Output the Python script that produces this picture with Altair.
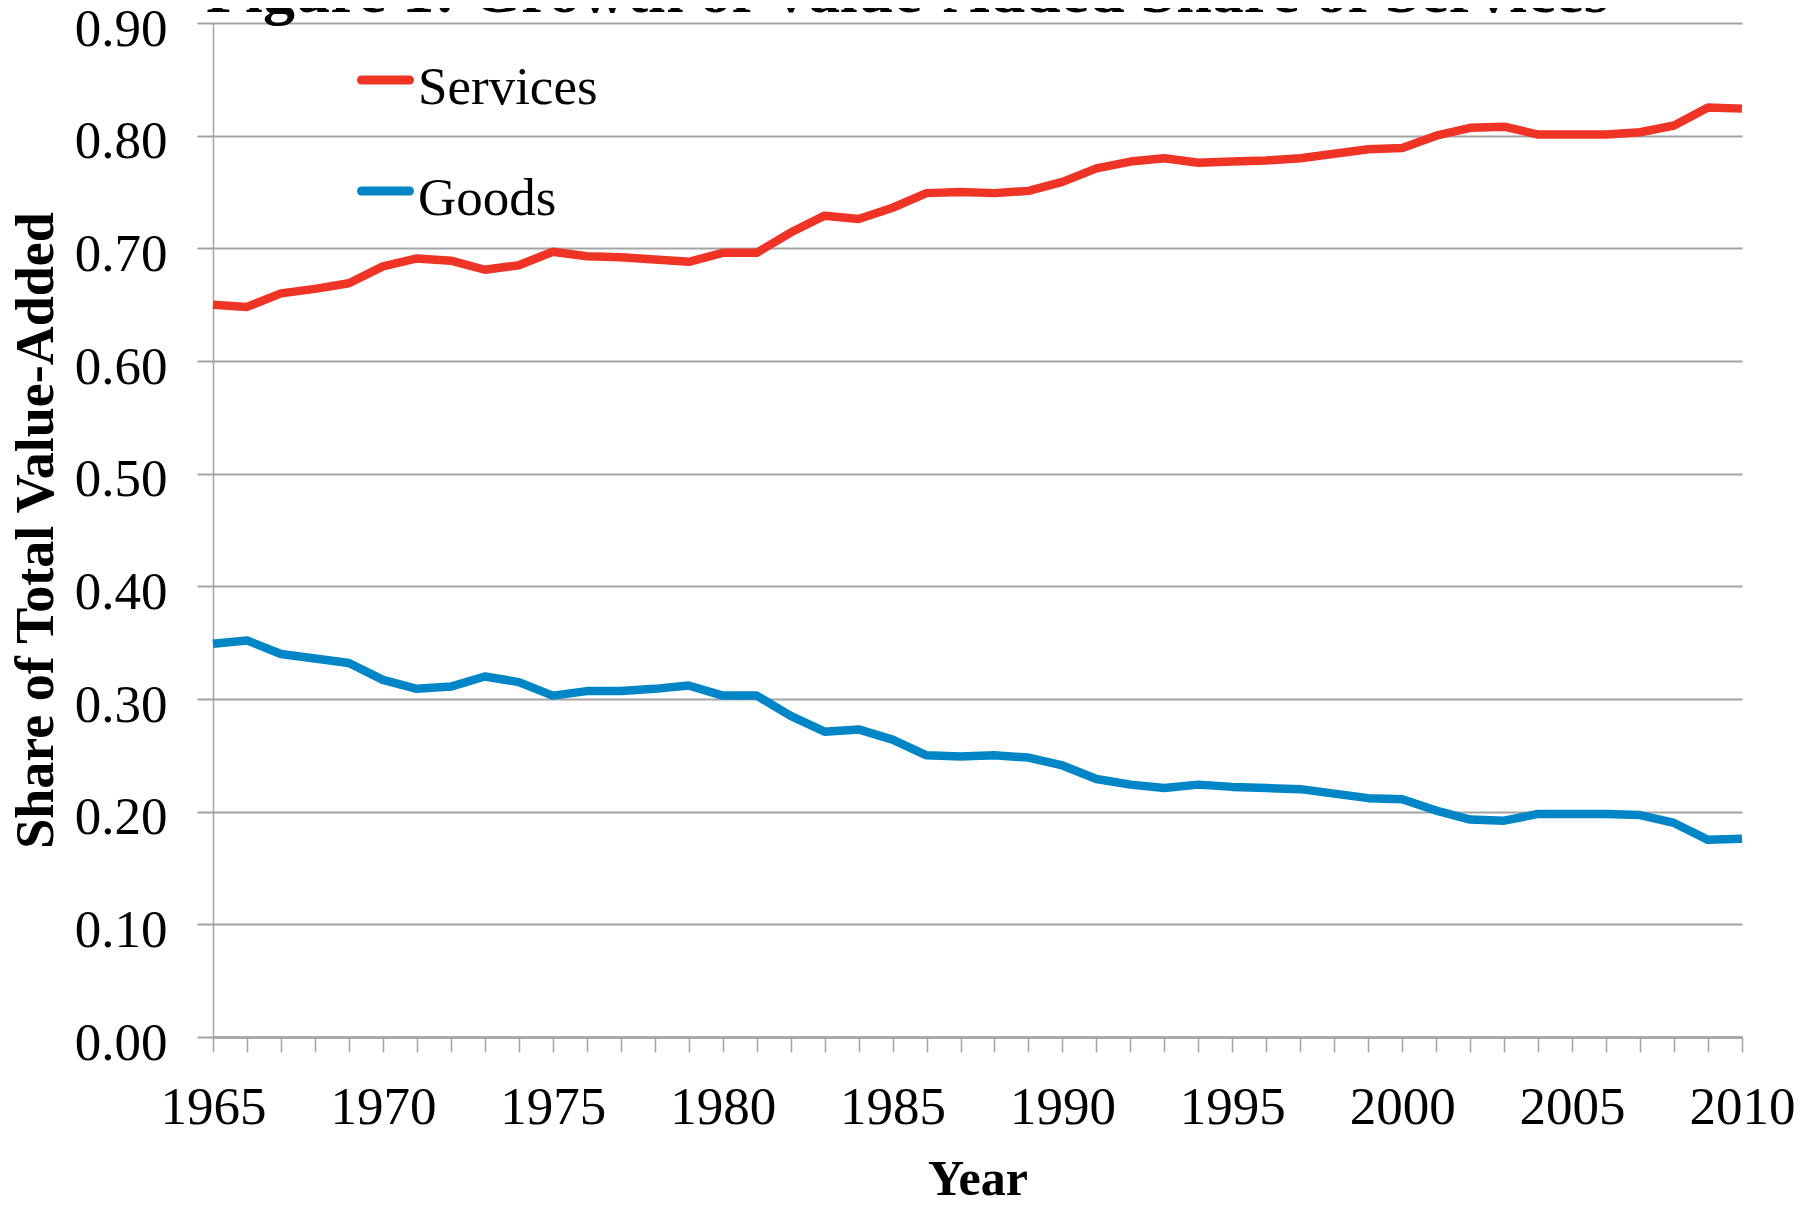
import altair as alt
import pandas as pd

# ---------------- data ----------------
years = list(range(1965, 2011))
services = [0.650, 0.648, 0.660, 0.664, 0.669, 0.684, 0.691, 0.689, 0.681, 0.685,
            0.697, 0.693, 0.692, 0.690, 0.688, 0.696, 0.696, 0.714, 0.729, 0.726,
            0.736, 0.749, 0.750, 0.749, 0.751, 0.759, 0.771, 0.777, 0.780, 0.776,
            0.777, 0.778, 0.780, 0.784, 0.788, 0.789, 0.800, 0.807, 0.808, 0.801,
            0.801, 0.801, 0.803, 0.809, 0.825, 0.824]
goods = [0.349, 0.352, 0.340, 0.336, 0.332, 0.317, 0.309, 0.311, 0.320, 0.315,
         0.303, 0.307, 0.307, 0.309, 0.312, 0.303, 0.303, 0.285, 0.271, 0.273,
         0.264, 0.250, 0.249, 0.250, 0.248, 0.241, 0.229, 0.224, 0.221, 0.224,
         0.222, 0.221, 0.220, 0.216, 0.212, 0.211, 0.201, 0.193, 0.192, 0.198,
         0.198, 0.198, 0.197, 0.190, 0.175, 0.176]
series_names = ["Services", "Goods"]
series_colors = ["#EF3426", "#0086C6"]
y_ticks = [0.0, 0.1, 0.2, 0.3, 0.4, 0.5, 0.6, 0.7, 0.8, 0.9]
title_text = ["Figure 1: Growth of Value-Added Share of Services"]
x_title = "Year"
y_title = "Share of Total Value-Added"

df = pd.DataFrame({
    "Year": years + years,
    "Share": services + goods,
    "Series": [series_names[0]] * len(years) + [series_names[1]] * len(years),
})

FONT = "Liberation Serif"
GRAY = "#A3A3A3"
W, H = 1529, 1014

color_scale = alt.Scale(domain=series_names, range=series_colors)

lines = alt.Chart(df).mark_line(strokeWidth=8.5, strokeJoin="round", strokeCap="butt").encode(
    x=alt.X(
        "Year:Q",
        scale=alt.Scale(domain=[1965, 2010], nice=False, zero=False),
        axis=alt.Axis(
            values=years, format="d",
            labelExpr="datum.value % 5 == 0 ? datum.label : ''",
            title=x_title, grid=False,
            tickSize=15, tickWidth=1.5, tickColor=GRAY,
            domainColor=GRAY, domainWidth=2.5,
            labelFont=FONT, labelFontSize=53, labelColor="black",
            labelPadding=29, labelBaseline="top", labelFlush=False, labelOverlap=False,
            titleFont=FONT, titleFontSize=50, titleFontWeight="bold", titleColor="black",
            titleX=W / 2, titleY=157, titleBaseline="alphabetic", titleAlign="center",
        ),
    ),
    y=alt.Y(
        "Share:Q",
        scale=alt.Scale(domain=[0, 0.9], nice=False, zero=True),
        axis=alt.Axis(
            values=y_ticks, format=".2f",
            title=y_title, grid=True, gridColor=GRAY, gridWidth=2,
            tickSize=16, tickWidth=2, tickColor=GRAY,
            domainColor=GRAY, domainWidth=1.5,
            labelFont=FONT, labelFontSize=53, labelColor="black",
            labelPadding=30, labelBaseline="alphabetic", labelOffset=22,
            labelFlush=False, labelOverlap=False,
            titleFont=FONT, titleFontSize=54, titleFontWeight="bold", titleColor="black",
            titleX=-161, titleY=H / 2, titleAngle=270,
            titleBaseline="alphabetic", titleAlign="center",
        ),
    ),
    color=alt.Color("Series:N", scale=color_scale, legend=None),
)

# ---------------- in-plot legend ----------------
legend_layers = []
for i, name in enumerate(series_names):
    ldf = pd.DataFrame({"Series": [name]})
    y_line = 57 + i * 111
    swatch = alt.Chart(ldf).mark_rule(strokeWidth=9, strokeCap="round").encode(
        x=alt.value(148.5), x2=alt.value(196.5), y=alt.value(y_line),
        color=alt.Color("Series:N", scale=color_scale, legend=None),
    )
    label = alt.Chart(ldf).mark_text(
        align="left", baseline="alphabetic", font=FONT, fontSize=53, color="black"
    ).encode(x=alt.value(205), y=alt.value(y_line + 24), text="Series:N")
    legend_layers += [swatch, label]

# ---------------- title (partly cut off at the top, as in the original) ----------------
title_df = pd.DataFrame({"t": title_text})
title = alt.Chart(title_df).mark_text(
    align="left", baseline="alphabetic", font=FONT, fontSize=64, fontWeight="bold", color="black"
).encode(x=alt.value(-7), y=alt.value(-11), text="t:N")

chart = alt.layer(lines, *legend_layers, title).properties(
    width=W, height=H,
    autosize=alt.AutoSizeParams(type="none"),
    padding={"left": 205, "top": 15, "right": 58, "bottom": 161},
    background="white",
).configure_view(stroke=None)

chart.save("out.html", embed_options={"renderer": "svg", "actions": False})
